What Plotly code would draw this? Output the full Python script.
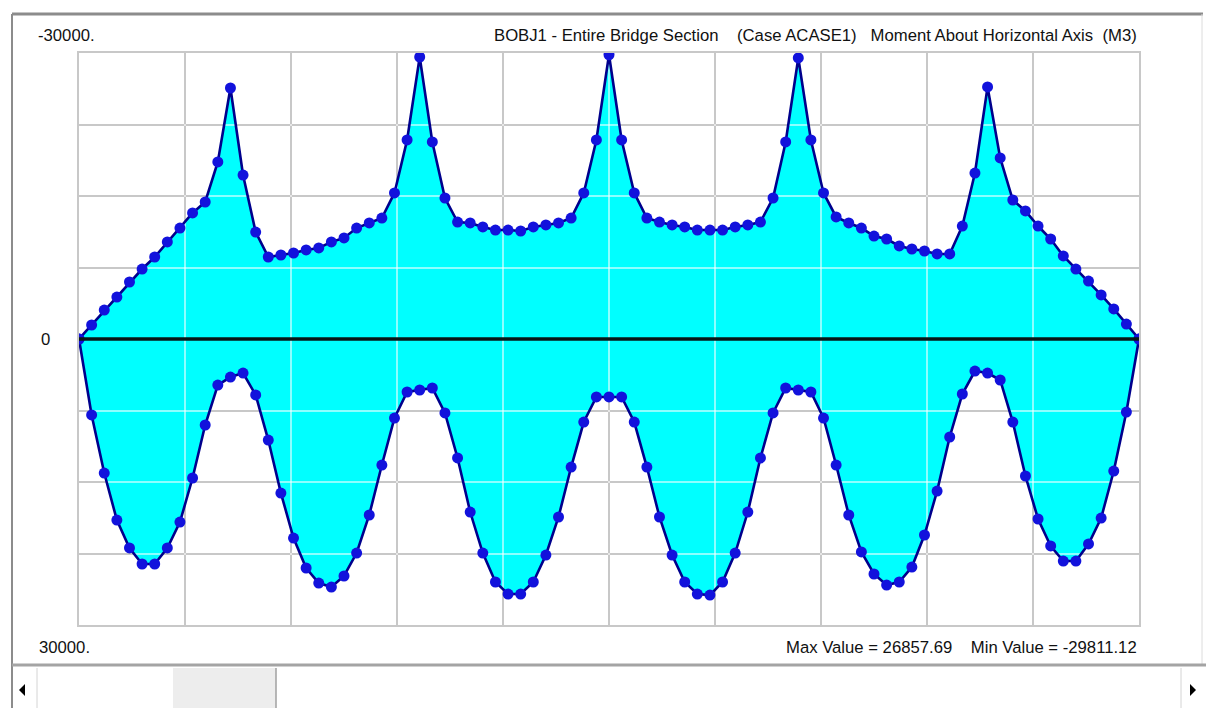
import plotly.graph_objects as go

# Output stations along the deck (ft), six spans 120-150-150-150-150-120
station_ft = list(range(0, 850, 10))

# Moment about horizontal axis M3 (kip-ft), envelope of load case ACASE1
m3_min = [
    0, -1470, -3040, -4400, -5980, -7340, -8600, -10180, -11640, -13220, -14370, -18570, -26330,
    -17200, -11220, -8600, -8810, -9020, -9340, -9550, -10180, -10600, -11640, -12170, -12690, -15320, -20880, -29580,
    -20670, -14790, -12270, -12170, -11750, -11430, -11430, -11330, -11750, -11960, -12170, -12690, -15320, -20880, -29811.12,
    -20880, -15320, -12690, -12270, -11960, -11750, -11430, -11430, -11430, -11750, -11960, -12270, -14790, -20670, -29480,
    -20880, -15320, -12800, -12170, -11640, -10800, -10490, -9760, -9440, -9230, -8920, -8920, -11850, -17410, -26440,
    -18990, -14580, -13430, -11850, -10490, -8710, -7340, -6080, -4620, -3150, -1570, 0,
]
m3_max = [
    0, 7970, 14060, 18990, 21920, 23600, 23600, 21920, 19200, 14580, 9020, 4830, 3990,
    3570, 5870, 10600, 16160, 20880, 24020, 25600, 26020, 24860, 22450, 18460, 13220, 8290, 5560, 5350,
    5140, 7760, 12480, 18150, 22450, 25490, 26750, 26750, 25490, 22660, 18670, 13430, 8710, 6080, 6080,
    6080, 8710, 13430, 18670, 22660, 25490, 26750, 26857.69, 25490, 22450, 18150, 12480, 7760, 5140, 5350,
    5560, 8290, 13220, 18460, 22340, 24650, 25810, 25490, 23920, 20560, 15950, 10280, 5770, 3360, 3570,
    4300, 8710, 14370, 18880, 21710, 23290, 23290, 21500, 18780, 13850, 7660, 0,
]

# Scale limits printed at the top and bottom of the diagram
y_limit = 30000
y_labels = ["-30000.", "0", "30000."]
NB = "\u00a0"
title_text = ("BOBJ1 - Entire Bridge Section" + NB * 4 + "(Case ACASE1)" + NB * 3
              + "Moment About Horizontal Axis" + NB * 2 + "(M3)")

W, H = 1206, 708
L, R, T, B = 79, 67, 53, 83
PW, PH = W - L - R, H - T - B


def fx(x):
    return (x - L) / PW


def fy(y):
    return (H - B - y) / PH


FONT = "Liberation Sans, Arial, sans-serif"
LINE = "#00008c"
DOT = "#1212dc"
CYAN = "#00ffff"

span_end = station_ft[-1]
x_grid = [span_end * k / 10 for k in range(1, 10)]
y_grid = [y_limit * k / 4 for k in range(-3, 4)]

fig = go.Figure()
# envelope fill on the lower subplot
fig.add_trace(go.Scatter(
    x=station_ft, y=m3_min, mode="lines", line=dict(width=0, color=CYAN),
    xaxis="x", yaxis="y", hoverinfo="skip", showlegend=False,
))
fig.add_trace(go.Scatter(
    x=station_ft, y=m3_max, mode="lines", line=dict(width=0, color=CYAN),
    fill="tonexty", fillcolor=CYAN,
    xaxis="x", yaxis="y", hoverinfo="skip", showlegend=False,
))
# envelope curves on the upper subplot, above the grid
for series in (m3_min, m3_max):
    fig.add_trace(go.Scatter(
        x=station_ft, y=series, mode="lines+markers",
        line=dict(color=LINE, width=2.6),
        marker=dict(color=DOT, size=11, line=dict(width=0)),
        xaxis="x2", yaxis="y2", hoverinfo="skip", showlegend=False,
    ))

common = dict(showticklabels=False, ticks="", zeroline=False, gridwidth=2, domain=[0, 1])
fig.update_layout(
    xaxis=dict(range=[0, span_end], tickmode="array", tickvals=x_grid,
               showgrid=True, gridcolor="#858585", showline=False, anchor="y", **common),
    yaxis=dict(range=[y_limit, -y_limit], tickmode="array", tickvals=y_grid,
               showgrid=True, gridcolor="#858585", showline=False, anchor="x", **common),
    xaxis2=dict(range=[0, span_end], tickmode="array", tickvals=x_grid,
                showgrid=True, gridcolor="rgba(255,255,255,0.55)", anchor="y2",
                showline=True, mirror=True, linecolor="#c8c8c8", linewidth=2, **common),
    yaxis2=dict(range=[y_limit, -y_limit], tickmode="array", tickvals=y_grid,
                showgrid=True, gridcolor="rgba(255,255,255,0.55)", anchor="x2",
                showline=True, mirror=True, linecolor="#c8c8c8", linewidth=2, **common),
)

shapes = []
# zero reference line drawn over the filled envelope
shapes.append(dict(type="line", xref="paper", yref="y", x0=0, x1=1, y0=0, y1=0,
                   line=dict(color="#061818", width=3.5), layer="above"))
# window frame
frame = "#8c8c8c"
shapes += [
    dict(type="line", xref="paper", yref="paper", x0=fx(12), x1=fx(1203), y0=fy(14), y1=fy(14),
         line=dict(color=frame, width=3)),
    dict(type="line", xref="paper", yref="paper", x0=fx(12), x1=fx(12), y0=fy(14), y1=fy(708),
         line=dict(color=frame, width=2)),
    dict(type="line", xref="paper", yref="paper", x0=fx(1202), x1=fx(1202), y0=fy(14), y1=fy(664),
         line=dict(color="#dcdcdc", width=1)),
    dict(type="line", xref="paper", yref="paper", x0=fx(12), x1=fx(1206), y0=fy(665), y1=fy(665),
         line=dict(color="#a4a4a4", width=3)),
    # scrollbar
    dict(type="rect", xref="paper", yref="paper", x0=fx(173), x1=fx(276), y0=fy(668), y1=fy(708),
         fillcolor="#ededed", line=dict(width=0)),
    dict(type="line", xref="paper", yref="paper", x0=fx(276), x1=fx(276), y0=fy(668), y1=fy(708),
         line=dict(color="#a0a0a0", width=1.5)),
    dict(type="line", xref="paper", yref="paper", x0=fx(37), x1=fx(37), y0=fy(668), y1=fy(708),
         line=dict(color="#d4d4d4", width=1)),
    dict(type="line", xref="paper", yref="paper", x0=fx(1181), x1=fx(1181), y0=fy(668), y1=fy(708),
         line=dict(color="#d4d4d4", width=1)),
    dict(type="path", xref="paper", yref="paper",
         path=f"M {fx(25)},{fy(684)} L {fx(19)},{fy(690)} L {fx(25)},{fy(696)} Z",
         fillcolor="#000000", line=dict(width=0)),
    dict(type="path", xref="paper", yref="paper",
         path=f"M {fx(1190)},{fy(684)} L {fx(1196)},{fy(690)} L {fx(1190)},{fy(696)} Z",
         fillcolor="#000000", line=dict(width=0)),
]

txt = dict(family=FONT, size=16.7, color="#111111")
annotations = [
    dict(x=fx(36), y=fy(35), xref="paper", yref="paper", text=y_labels[0],
         xanchor="left", yanchor="middle", showarrow=False, font=txt),
    dict(x=fx(39), y=0, xref="paper", yref="y", text=y_labels[1],
         xanchor="left", yanchor="middle", showarrow=False, font=txt),
    dict(x=fx(37), y=fy(647), xref="paper", yref="paper", text=y_labels[2],
         xanchor="left", yanchor="middle", showarrow=False, font=txt),
    dict(x=1.0, y=fy(35), xref="paper", yref="paper", text=title_text,
         xanchor="right", yanchor="middle", showarrow=False, font=txt),
    dict(x=1.0, y=fy(647), xref="paper", yref="paper",
         text=f"Max Value = {max(m3_max):.2f}" + NB * 4 + f"Min Value = {min(m3_min):.2f}",
         xanchor="right", yanchor="middle", showarrow=False, font=txt),
]

fig.update_layout(
    width=W, height=H,
    margin=dict(l=L, r=R, t=T, b=B, pad=0),
    paper_bgcolor="#ffffff", plot_bgcolor="rgba(0,0,0,0)",
    shapes=shapes, annotations=annotations,
)

fig.write_html("out.html")
